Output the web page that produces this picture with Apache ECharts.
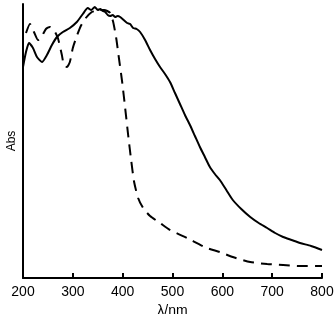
<!DOCTYPE html>
<html>
<head>
<meta charset="utf-8">
<script src="https://cdn.jsdelivr.net/npm/echarts@6/dist/echarts.min.js"></script>
<style>html,body{margin:0;padding:0;background:#fff}#c{width:335px;height:314px}</style>
</head>
<body>
<div id="c"></div>
<script>
var xTicks = [200, 300, 400, 500, 600, 700, 800];
var solidNm  = [200,206,212,220,228,238,248,258,268,280,294,308,320,330,337,344,350,355,360,365,370,375,380,385,390,395,402,409,415,421,428,435,445,455,465,475,485,495,505,515,525,535,545,555,565,575,585,595,608,621,638,656,673,690,706,722,739,756,778,800];
var solidAbs = [211,226,235,230,221,216,223,233,241,246,250,256,264,270,268,271,268,269,267,266,263,262,263,261,262,261,258,255,254,250,249,246,238,228,219,211,204,196,185,174,163,153,142,131,121,111,104,98,88,78,69,61,55,50,45,41,38,35,32,28];
var dashNm  = [206,214,222,230,238,246,254,262,270,278,282,288,294,300,308,316,326,338,345,351,357,363,369,375,381,387,393,399,405,411,417,423,431,441,455,475,495,529,569,595,621,656,690,722,756,800];
var dashAbs = [245,254,246,238,242,249,251,248,240,223,213,211,216,230,242,252,260,266,267,269,268,268,267,265,256,240,218,196,170,143,118,96,80,70,62,55,48,40,30,26,21,16,14,13,12,12];

function pairs(xs, ys){ return xs.map(function(x,i){ return [x, ys[i]]; }); }

var chart = echarts.init(document.getElementById('c'), null, {renderer:'canvas'});
chart.setOption({
  animation: false,
  backgroundColor: '#fff',
  grid: {left: 23, right: 13, top: 4, bottom: 36, containLabel: false, outerBoundsMode: 'none'},
  xAxis: {
    type: 'value', min: 200, max: 800, interval: 100,
    name: 'λ/nm', nameLocation: 'middle', nameGap: 17,
    nameTextStyle: {color: '#000', fontSize: 14, fontFamily: 'Liberation Sans'},
    axisLine: {show: true, lineStyle: {color: '#000', width: 2}},
    axisTick: {show: true, inside: true, length: 5, lineStyle: {color: '#000', width: 2}},
    axisLabel: {color: '#000', fontSize: 14, fontFamily: 'Liberation Sans', margin: 7,
      formatter: function(v){ return xTicks.indexOf(v) >= 0 ? String(v) : ''; }},
    splitLine: {show: false}
  },
  yAxis: {
    type: 'value', min: 0, max: 274,
    name: 'Abs', nameLocation: 'middle', nameGap: 5, nameRotate: 90,
    nameTextStyle: {color: '#000', fontSize: 12, fontFamily: 'Liberation Sans'},
    axisLine: {show: true, lineStyle: {color: '#000', width: 2}},
    axisTick: {show: false}, axisLabel: {show: false}, splitLine: {show: false}
  },
  series: [
    {type: 'line', data: pairs(solidNm, solidAbs), showSymbol: false, smooth: 0.2,
     lineStyle: {color: '#000', width: 2}},
    {type: 'line', data: pairs(dashNm, dashAbs), showSymbol: false, smooth: 0.2,
     lineStyle: {color: '#000', width: 2, type: [11, 7]}}
  ]
});
</script>
</body>
</html>
